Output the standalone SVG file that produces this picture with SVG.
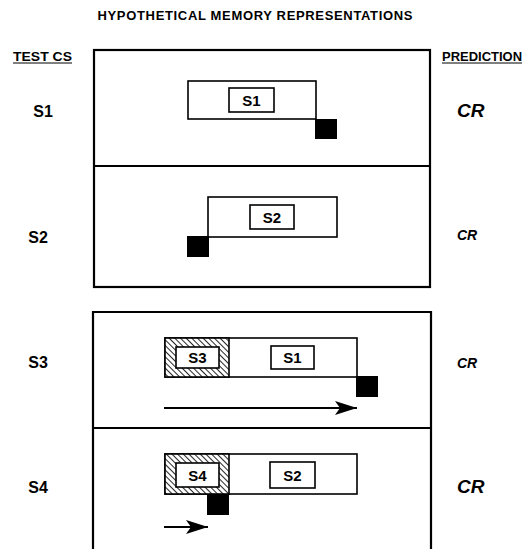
<svg xmlns="http://www.w3.org/2000/svg" width="524" height="549" viewBox="0 0 524 549">
<defs>
<style>
.t{font-family:"Liberation Sans",Arial,sans-serif;font-weight:bold;fill:#000}
.frame{fill:none;stroke:#000;stroke-width:2.2}
.mem{fill:#fff;stroke:#000;stroke-width:1.6}
.cs{fill:#fff;stroke:#000;stroke-width:1.6}
.us{fill:#000}
.arrow{stroke:#000;stroke-width:2;fill:none}
.lbl{font-size:15px;text-anchor:middle}
.big{font-size:19px;font-style:italic}
.small{font-size:14px;font-style:italic}
.side{font-size:16px;text-anchor:middle}
</style>
<pattern id="hatch" patternUnits="userSpaceOnUse" width="4" height="4" patternTransform="rotate(-45)">
<rect width="4" height="4" fill="#fff"/>
<line x1="0" y1="0" x2="0" y2="4" stroke="#000" stroke-width="1.7"/>
</pattern>
<marker id="ah" markerUnits="userSpaceOnUse" markerWidth="24" markerHeight="14" refX="22" refY="7" orient="auto">
<path d="M0,0 L22,7 L0,14 L5,7 Z" fill="#000"/>
</marker>
</defs>

<text class="t" x="255" y="20" font-size="13" text-anchor="middle" textLength="315" lengthAdjust="spacing">HYPOTHETICAL  MEMORY  REPRESENTATIONS</text>

<g id="header-test">
<text class="t" x="13" y="61" font-size="13" textLength="59" lengthAdjust="spacingAndGlyphs">TEST CS</text>
<line x1="13" y1="63" x2="72" y2="63" stroke="#000" stroke-width="1"/>
</g>
<g id="header-prediction">
<text class="t" x="442" y="61" font-size="13" textLength="80" lengthAdjust="spacingAndGlyphs">PREDICTION</text>
<line x1="442" y1="63" x2="522" y2="63" stroke="#000" stroke-width="1"/>
</g>

<g id="frame-top">
<rect class="frame" x="94" y="50" width="336" height="237"/>
<line x1="94" y1="166" x2="430" y2="166" stroke="#000" stroke-width="2.2"/>
</g>
<g id="frame-bottom">
<path class="frame" d="M93,549 L93,312 L431,312 L431,549"/>
<line x1="93" y1="428" x2="431" y2="428" stroke="#000" stroke-width="2.2"/>
</g>

<g id="row-s1">
<text class="t side" x="43" y="117">S1</text>
<rect class="mem" x="188" y="81" width="128" height="38"/>
<rect class="cs" x="229" y="88" width="45" height="24"/>
<text class="t lbl" x="251.5" y="106">S1</text>
<rect class="us" x="315" y="119" width="22" height="20"/>
<text class="t big" x="457" y="117">CR</text>
</g>

<g id="row-s2">
<text class="t side" x="38" y="243">S2</text>
<rect class="mem" x="208" y="197" width="129" height="40"/>
<rect class="cs" x="250" y="205" width="44" height="24"/>
<text class="t lbl" x="272" y="223">S2</text>
<rect class="us" x="187" y="236" width="22" height="21"/>
<text class="t small" x="457" y="240">CR</text>
</g>

<g id="row-s3">
<text class="t side" x="38" y="368">S3</text>
<rect class="mem" x="165" y="338" width="192" height="39"/>
<rect x="165" y="338" width="64" height="39" fill="url(#hatch)" stroke="#000" stroke-width="1.6"/>
<rect class="cs" x="176" y="347" width="43" height="21"/>
<text class="t lbl" x="197.5" y="363">S3</text>
<rect class="cs" x="271" y="346" width="43" height="23"/>
<text class="t lbl" x="292.5" y="363">S1</text>
<rect class="us" x="356" y="376" width="22" height="21"/>
<text class="t small" x="457" y="368">CR</text>
</g>

<g id="row-s4">
<text class="t side" x="38" y="493">S4</text>
<rect class="mem" x="165" y="454" width="192" height="40"/>
<rect x="165" y="454" width="64" height="40" fill="url(#hatch)" stroke="#000" stroke-width="1.6"/>
<rect class="cs" x="176" y="463" width="43" height="24"/>
<text class="t lbl" x="197.5" y="480.5">S4</text>
<rect class="cs" x="270" y="462" width="45" height="26"/>
<text class="t lbl" x="292.5" y="480.5">S2</text>
<rect class="us" x="207" y="494" width="22" height="21"/>
<text class="t big" x="457" y="493">CR</text>
</g>

<g id="connectors">
<line class="arrow" x1="164" y1="408" x2="357" y2="408" marker-end="url(#ah)"/>
<line class="arrow" x1="164" y1="527" x2="208" y2="527" marker-end="url(#ah)"/>
</g>
</svg>
